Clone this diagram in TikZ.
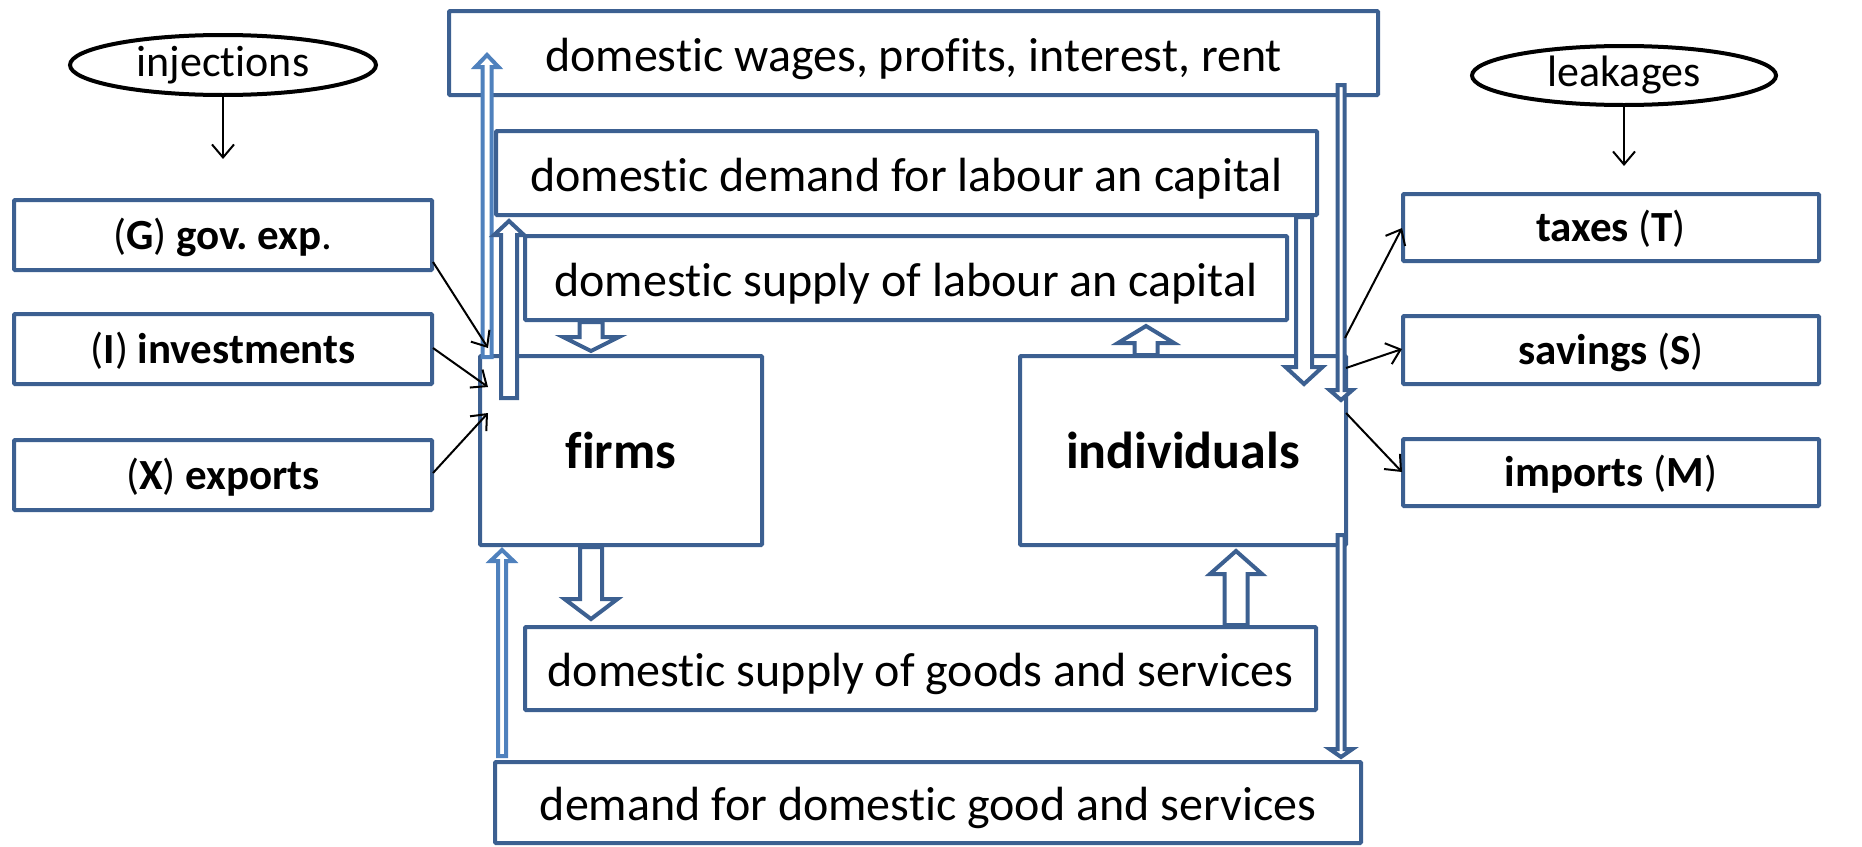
\documentclass[tikz,border=0pt]{standalone}
\usepackage{fontspec}
\setmainfont{Carlito}[Ligatures={NoCommon}]
\frenchspacing
\usetikzlibrary{calc,shapes.geometric,arrows.meta}
\definecolor{dkblue}{RGB}{60,96,145}
\definecolor{ltblue}{RGB}{79,129,189}
\newcommand\blockarrow[6]{%
  \draw[#1] let \p1=(#2), \p2=(#3), \p3=($(#3)!#6pt!(#2)$) in
    (\x1-#4pt,\y1) -- (\x1-#4pt,\y3) -- (\x1-#5pt,\y3) -- (\x2,\y2) --
    (\x1+#5pt,\y3) -- (\x1+#4pt,\y3) -- (\x1+#4pt,\y1) -- cycle;}
\tikzset{
  box/.style={draw=dkblue, line width=4pt, fill=white, rounded corners=1pt, inner sep=0pt, align=center},
  maintext/.style={font=\fontsize{48}{54}\selectfont, text height=46pt, text depth=10pt},
  sidetext/.style={font=\fontsize{43}{49}\selectfont, text height=38pt, text depth=10pt},
  bigtext/.style={font=\fontsize{52}{58}\selectfont\bfseries},
  oval/.style={draw=black, line width=4pt, ellipse, inner sep=0pt, font=\fontsize{44}{50}\selectfont},
  fatarrow/.style={draw=dkblue, line width=4pt, fill=white, line join=miter},
  slimarrow/.style={draw=dkblue, line width=4pt, fill=white, line join=miter},
  lightarrow/.style={draw=ltblue, line width=4pt, fill=white, line join=miter},
  blackarrow/.style={draw=black, line width=2pt, -{Straight Barb[length=13pt,width=22pt,line width=2pt]}}
}
\begin{document}
\begin{tikzpicture}[x=1pt,y=-1pt]
\useasboundingbox (0,0) rectangle (1862,846);
% central boxes
\node[box, maintext, minimum width=929pt, minimum height=84pt] (wages) at (913.5,53) {domestic wages, profits, interest, rent};
\node[box, maintext, minimum width=821pt, minimum height=84pt] (dlab) at (906.5,173) {domestic demand for labour an capital};
\node[box, maintext, minimum width=762pt, minimum height=84pt] (slab) at (906,278) {domestic supply of labour an capital};
\node[box, bigtext, minimum width=282pt, minimum height=189pt] (firms) at (621,450.5) {firms};
\node[box, bigtext, minimum width=326pt, minimum height=189pt] (indiv) at (1183,450.5) {individuals};
\node[box, maintext, minimum width=791pt, minimum height=83pt] (sgoods) at (920.5,668.5) {domestic supply of goods and services};
\node[box, maintext, minimum width=866pt, minimum height=81pt] (dgoods) at (928,802.5) {demand for domestic good and services};
% left boxes
\node[box, sidetext, minimum width=418pt, minimum height=70pt] (G) at (223,235) {(\textbf{G}) \textbf{gov. exp}.};
\node[box, sidetext, minimum width=418pt, minimum height=70pt] (I) at (223,349) {(\textbf{I}) \textbf{investments}};
\node[box, sidetext, minimum width=418pt, minimum height=70pt] (X) at (223,475) {(\textbf{X}) \textbf{exports}};
% right boxes
\node[box, sidetext, minimum width=416pt, minimum height=67pt] (T) at (1611,227.5) {\textbf{taxes} (\textbf{T})};
\node[box, sidetext, minimum width=416pt, minimum height=68pt] (S) at (1611,350) {\textbf{savings} (\textbf{S})};
\node[box, sidetext, minimum width=416pt, minimum height=67pt] (M) at (1611,472.5) {\textbf{imports} (\textbf{M})};
% ellipses
\node[oval, minimum width=306pt, minimum height=60pt] (inj) at (223,65) {injections};
\node[oval, minimum width=304pt, minimum height=59pt] (leak) at (1624,75.5) {leakages};
% block arrow end points
\coordinate (a1s) at (487,357);  \coordinate (a1e) at (487,55);
\coordinate (a2s) at (509,398);  \coordinate (a2e) at (509,221);
\coordinate (a3s) at (591,322);  \coordinate (a3e) at (591,351);
\coordinate (a4s) at (1146,355); \coordinate (a4e) at (1146,326);
\coordinate (a5s) at (1304,217); \coordinate (a5e) at (1304,384);
\coordinate (a6s) at (1341,85);  \coordinate (a6e) at (1341,400);
\coordinate (a7s) at (1341,535); \coordinate (a7e) at (1341,757);
\coordinate (a8s) at (502,756);  \coordinate (a8e) at (502,550);
\coordinate (a9s) at (591,547);  \coordinate (a9e) at (591,619);
\coordinate (a10s) at (1236,625); \coordinate (a10e) at (1236,551);
\blockarrow{lightarrow}{a1s}{a1e}{4.5}{11.5}{12}
\blockarrow{fatarrow}{a2s}{a2e}{8}{15}{14}
\blockarrow{fatarrow}{a3s}{a3e}{11.5}{28}{14}
\blockarrow{fatarrow}{a4s}{a4e}{11.5}{28}{17}
\blockarrow{fatarrow}{a5s}{a5e}{8}{18.5}{17}
\blockarrow{slimarrow}{a6s}{a6e}{3.5}{11.5}{10}
\blockarrow{slimarrow}{a7s}{a7e}{3.5}{11.5}{8}
\blockarrow{lightarrow}{a8s}{a8e}{4}{11.5}{11}
\blockarrow{fatarrow}{a9s}{a9e}{11}{26.5}{20}
\blockarrow{fatarrow}{a10s}{a10e}{11.5}{26}{23}
% black arrows
\coordinate (injend) at (223,159);
\coordinate (leakend) at (1624,166);
\draw[blackarrow] (inj.south) -- (injend);
\draw[blackarrow] (leak.south) -- (leakend);
\coordinate (gs) at (433,262);   \coordinate (ge) at (488,348);
\coordinate (is) at (433,348);   \coordinate (ie) at (488,387);
\coordinate (xs) at (433,473);   \coordinate (xe) at (488,413);
\coordinate (ts) at (1345,338);  \coordinate (te) at (1402,228);
\coordinate (ss) at (1346,368);  \coordinate (se) at (1402,349);
\coordinate (ms) at (1346,413);  \coordinate (me) at (1402,472);
\draw[blackarrow] (gs) -- (ge);
\draw[blackarrow] (is) -- (ie);
\draw[blackarrow] (xs) -- (xe);
\draw[blackarrow] (ts) -- (te);
\draw[blackarrow] (ss) -- (se);
\draw[blackarrow] (ms) -- (me);
\end{tikzpicture}
\end{document}
